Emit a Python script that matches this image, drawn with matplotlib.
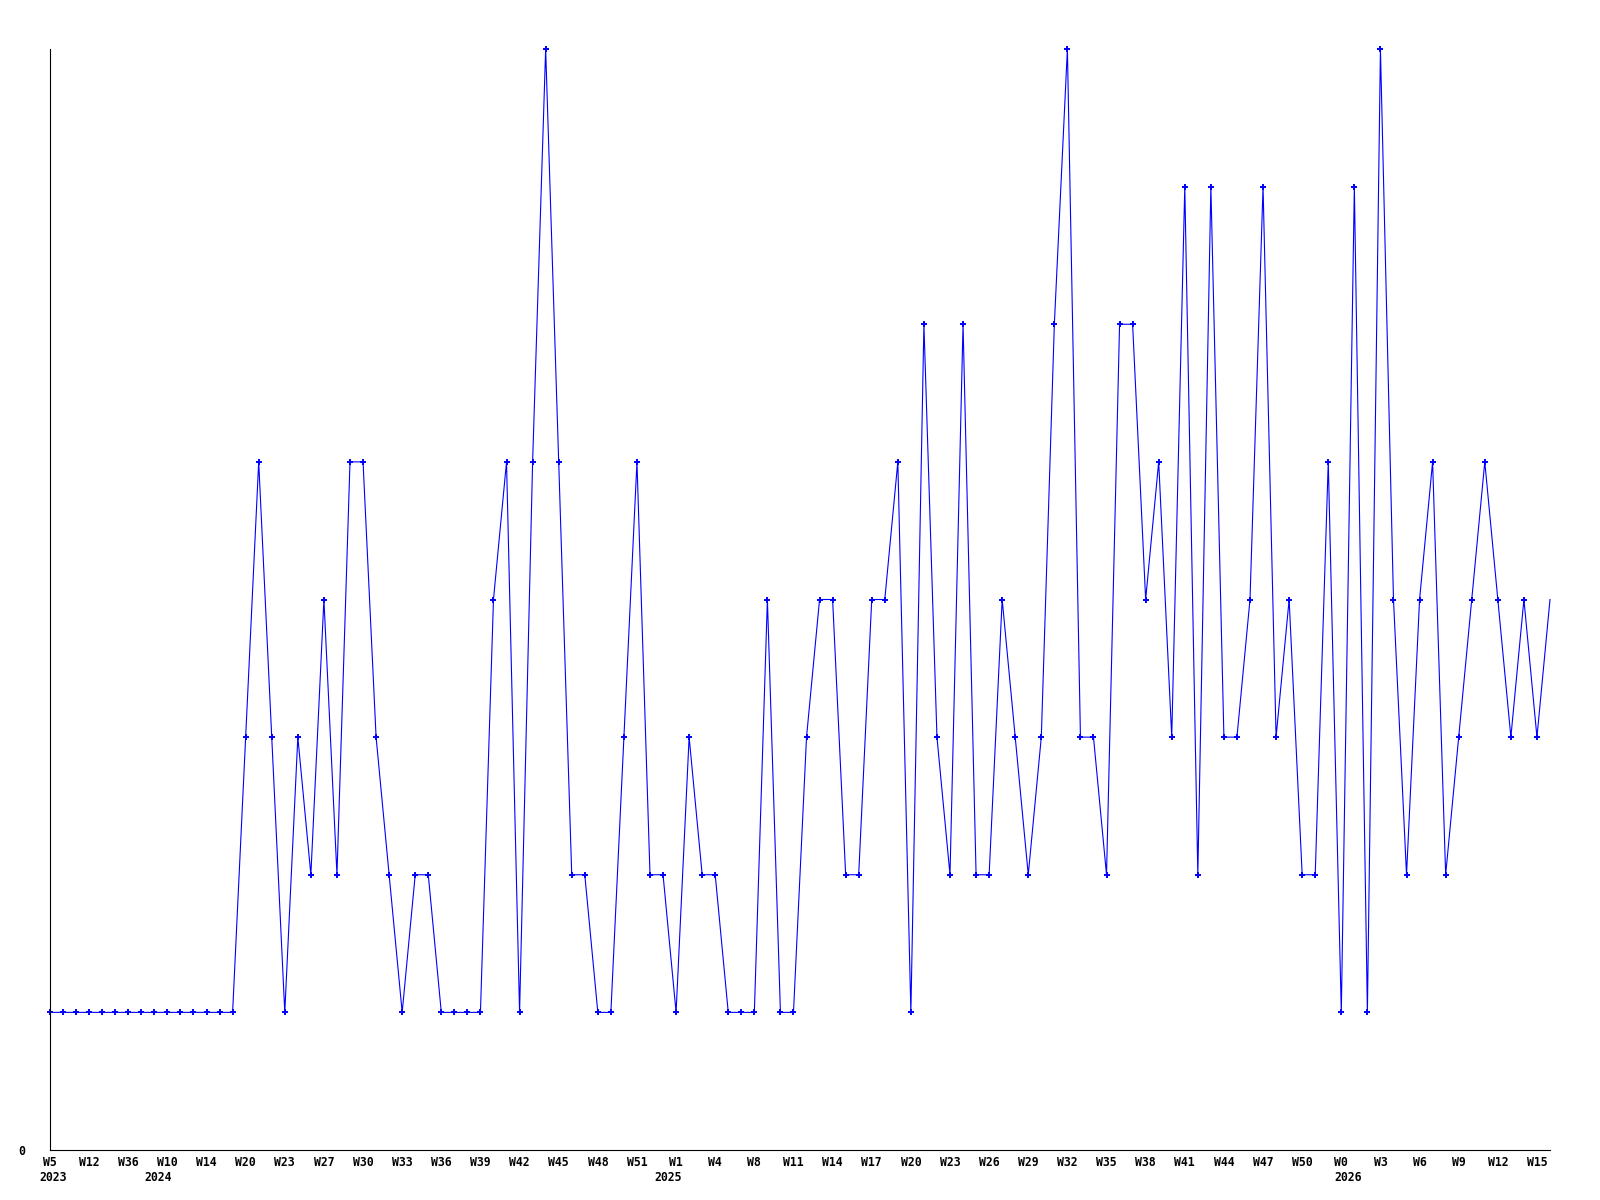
import matplotlib
matplotlib.use("Agg")
import matplotlib.pyplot as plt

# one value per sample, every third sample gets a week label
values = [
    1, 1, 1, 1, 1, 1, 1, 1, 1, 1, 1, 1, 1, 1, 1,
    3, 5, 3, 1, 3, 2, 4, 2, 5, 5, 3, 2, 1, 2, 2,
    1, 1, 1, 1, 4, 5, 1, 5, 8, 5, 2, 2, 1, 1, 3,
    5, 2, 2, 1, 3, 2, 2, 1, 1, 1, 4, 1, 1, 3, 4,
    4, 2, 2, 4, 4, 5, 1, 6, 3, 2, 6, 2, 2, 4, 3,
    2, 3, 6, 8, 3, 3, 2, 6, 6, 4, 5, 3, 7, 2, 7,
    3, 3, 4, 7, 3, 4, 2, 2, 5, 1, 7, 1, 8, 4, 2,
    4, 5, 2, 3, 4, 5, 4, 3, 4, 3, 4,
]
week_labels = [
    "W5", "W12", "W36", "W10", "W14", "W20", "W23", "W27", "W30", "W33",
    "W36", "W39", "W42", "W45", "W48", "W51", "W1", "W4", "W8", "W11",
    "W14", "W17", "W20", "W23", "W26", "W29", "W32", "W35", "W38", "W41",
    "W44", "W47", "W50", "W0", "W3", "W6", "W9", "W12", "W15",
]
label_step = 3
year_labels = {0: "2023", 9: "2024", 48: "2025", 99: "2026"}
# small horizontal nudges (points) so the years sit where the original puts them
year_nudge = {0: 2, 9: -7, 48: -6, 99: 5}

FONT = "DejaVu Sans Mono"
FS = 8.3

fig = plt.figure(figsize=(16, 12), dpi=100)
ax = fig.add_axes([50 / 1600, 50 / 1200, 1500 / 1600, 1101 / 1200])

x = list(range(len(values)))
ax.plot(x, values, color="#0000ff", linewidth=0.8, marker="+", markersize=5,
        markeredgewidth=1.4, markevery=slice(0, len(values) - 1), clip_on=False)

ax.set_xlim(0, len(values) - 1)
ax.set_ylim(0, 8)

for side in ("top", "right"):
    ax.spines[side].set_visible(False)
for side in ("left", "bottom"):
    ax.spines[side].set_linewidth(0.8)
    ax.spines[side].set_color("black")

tick_pos = [i * label_step for i in range(len(week_labels))]
ax.set_xticks(tick_pos)
ax.set_xticklabels(week_labels, fontfamily=FONT, fontsize=FS, fontweight="bold")
ax.set_yticks([0])
ax.set_yticklabels(["0"], fontfamily=FONT, fontsize=FS, fontweight="bold")
ax.tick_params(axis="x", length=0, pad=4.5)
ax.tick_params(axis="y", length=0, pad=18)

for idx, year in year_labels.items():
    ax.annotate(year, xy=(idx, 0), xycoords=("data", "axes fraction"),
                xytext=(year_nudge[idx], -19.5), textcoords="offset points",
                ha="center", va="center", fontfamily=FONT, fontsize=FS,
                fontweight="bold", annotation_clip=False)

fig.savefig("out.png", dpi=100, facecolor="white")
